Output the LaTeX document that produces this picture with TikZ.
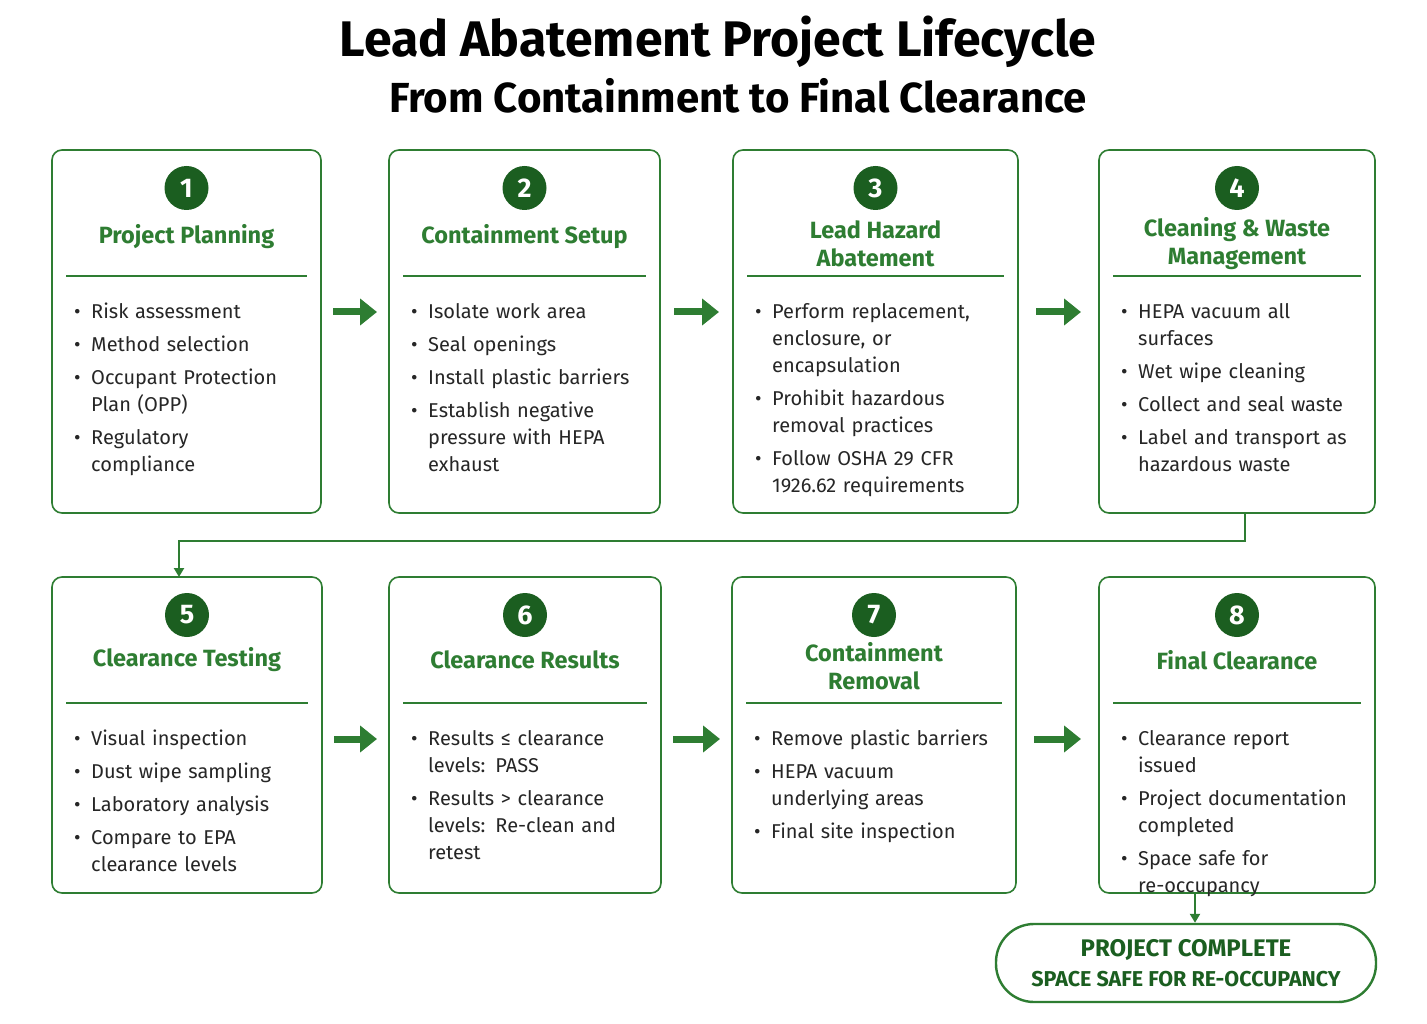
\documentclass[tikz,border=0pt]{standalone}
\usepackage{fontspec}
\setmainfont{Fira Sans}
\usetikzlibrary{arrows.meta}
\definecolor{gr}{HTML}{2E7D32}
\definecolor{dg}{HTML}{1B5E20}
\newcommand{\bi}[1]{\par\hyphenpenalty=10000\exhyphenpenalty=10000\hangindent=17pt\hangafter=1\noindent\makebox[17pt][l]{\textbullet}#1\par\vspace{6pt}}
\tikzset{
 box/.style={draw=gr,line width=1.6pt,rounded corners=10pt},
 num/.style={circle,fill=dg,text=white,minimum size=44pt,inner sep=0pt,font=\fontsize{27}{27}\selectfont\bfseries},
 ttl/.style={text=gr,align=center,font=\fontsize{23.5}{28}\selectfont\bfseries},
 sep/.style={draw=gr,line width=1.2pt},
 items/.style={anchor=north west,inner sep=0pt,align=left,font=\fontsize{20}{27}\selectfont,text=black!85},
 barrow/.style={draw=gr,line width=7pt,-{Triangle[length=17pt,width=26pt]}},
 conn/.style={draw=gr,line width=2.4pt,-{Triangle[length=9pt,width=10pt]}}
}
\begin{document}
\begin{tikzpicture}[x=1pt,y=-1pt]
\useasboundingbox[fill=white] (0,0) rectangle (1427,1024);
\node (t1) at (718,42) {\fontsize{50}{50}\selectfont\bfseries Lead Abatement Project Lifecycle};
\node (t2) at (738,96) {\fontsize{42}{42}\selectfont\bfseries From Containment to Final Clearance};
\newcommand{\stp}[9]{% name x1 x2 y1 y2 num titley title items
 \draw[box] (#2,#4) rectangle (#3,#5);
 \node[num] (#1n) at ({(#2+#3)/2},{#4+38}) {#6};
 \node[ttl] (#1t) at ({(#2+#3)/2},{#4+#7}) {#8};
 \draw[sep] ({#2+14},{#4+126}) -- ({#3-14},{#4+126});
 \node[items,text width={#3-#2-50}] (#1i) at ({#2+22},{#4+141}) {#9};
 \coordinate (#1a) at (#2,{#4+162});
 \coordinate (#1b) at (#3,{#4+162});
}
\stp{s1}{52}{321}{150}{513}{1}{87}{Project Planning}{\bi{Risk assessment}\bi{Method selection}\bi{Occupant Protection Plan (OPP)}\bi{Regulatory compliance}}
\stp{s2}{389}{660}{150}{513}{2}{87}{Containment Setup}{\bi{Isolate work area}\bi{Seal openings}\bi{Install plastic barriers}\bi{Establish negative pressure with HEPA exhaust}}
\stp{s3}{733}{1018}{150}{513}{3}{94}{Lead Hazard\\Abatement}{\bi{Perform replacement, enclosure, or encapsulation}\bi{Prohibit hazardous removal practices}\bi{Follow OSHA 29 CFR 1926.62 requirements}}
\stp{s4}{1099}{1375}{150}{513}{4}{94}{Cleaning \& Waste\\Management}{\bi{HEPA vacuum all surfaces}\bi{Wet wipe cleaning}\bi{Collect and seal waste}\bi{Label and transport as hazardous waste}}
\stp{s5}{52}{322}{577}{893}{5}{83}{Clearance Testing}{\bi{Visual inspection}\bi{Dust wipe sampling}\bi{Laboratory analysis}\bi{Compare to EPA clearance levels}}
\stp{s6}{389}{661}{577}{893}{6}{83}{Clearance Results}{\bi{Results ≤ clearance levels: PASS}\bi{Results > clearance levels: Re-clean and retest}}
\stp{s7}{732}{1016}{577}{893}{7}{89}{Containment\\Removal}{\bi{Remove plastic barriers}\bi{HEPA vacuum underlying areas}\bi{Final site inspection}}
\stp{s8}{1099}{1375}{577}{893}{8}{83}{Final Clearance}{\bi{Clearance report issued}\bi{Project documentation completed}\bi{Space safe for re-occupancy}}
\draw[barrow] ([xshift=12pt]s1b) -- ([xshift=-12pt]s2a);
\draw[barrow] ([xshift=14pt]s2b) -- ([xshift=-14pt]s3a);
\draw[barrow] ([xshift=18pt]s3b) -- ([xshift=-18pt]s4a);
\draw[barrow] ([xshift=12pt]s5b) -- ([xshift=-12pt]s6a);
\draw[barrow] ([xshift=12pt]s6b) -- ([xshift=-12pt]s7a);
\draw[barrow] ([xshift=18pt]s7b) -- ([xshift=-18pt]s8a);
\coordinate (c1) at (1245,513);
\coordinate (c2) at (179,577);
\draw[conn] (c1) |- (179,541) -- (c2);
\node[draw=gr,line width=2.4pt,rounded corners=38pt,minimum width=380pt,minimum height=78pt,text=dg,align=center,font=\fontsize{24}{30}\selectfont\bfseries] (fin) at (1186,963) {PROJECT COMPLETE\\\fontsize{21.5}{26}\selectfont SPACE SAFE FOR RE-OCCUPANCY};
\coordinate (c3) at (1195,893);
\draw[conn] (c3) -- (c3 |- fin.north);
\end{tikzpicture}
\end{document}
